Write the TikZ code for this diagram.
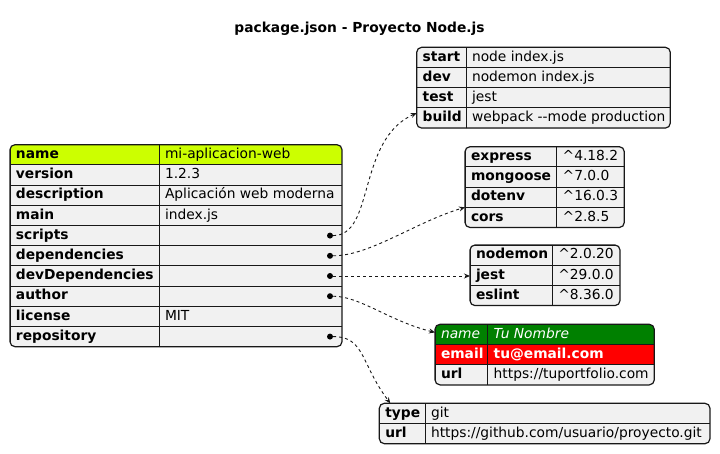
\documentclass[tikz,border=0pt]{standalone}
\usepackage{fontspec}
\setmainfont{DejaVu Sans}
\usepackage{tikz}
\usetikzlibrary{arrows.meta, positioning}

\definecolor{jline}{HTML}{181818}
\definecolor{cellbg}{HTML}{F1F1F1}
\definecolor{jlime}{HTML}{CCFF00}
\definecolor{jgreen}{HTML}{008000}
\definecolor{jred}{HTML}{FF0000}

\newcommand{\jfont}{\fontsize{13.8}{17}\selectfont}

\tikzset{
  jcell/.style={rectangle, draw=jline, line width=0.8pt, fill=cellbg, anchor=north west,
    outer sep=0pt, inner xsep=6pt, inner ysep=0pt, minimum height=20.2pt,
    text height=10.5pt, text depth=3pt},
  keycell/.style={jcell, font=\jfont\bfseries},
  valcell/.style={jcell, font=\jfont},
  rowplain/.style={},
  rowlime/.style={fill=jlime},
  rowgreen/.style={fill=jgreen, text=white, font=\jfont\itshape},
  rowred/.style={fill=jred, text=white, font=\jfont\bfseries},
  tableframe/.style={draw=jline, line width=1.2pt, rounded corners=5pt},
  jdot/.style={circle, fill=black, inner sep=0pt, minimum size=6pt},
  jlink/.style={draw=jline, line width=0.9pt, dash pattern=on 3pt off 3pt,
    -{Stealth[length=6pt,width=5pt]}}
}

% #1 name, #2 north west corner, #3 key width, #4 value width, #5 rows, #6 key/value/style list
\newcommand{\jsontable}[6]{%
  \pgfmathsetmacro\jkw{#3-12}%
  \pgfmathsetmacro\jvw{#4-12}%
  \begin{scope}[shift={#2}]
    \begin{scope}
      \clip[rounded corners=5pt] (0,0) rectangle (#3+#4,#5*20.2);
      \foreach \k/\v/\s [count=\i] in {#6} {
        \node[keycell,\s] (#1-k\i) at (0,{(\i-1)*20.2}) {\makebox[\jkw pt][l]{\k}};
        \node[valcell,\s] (#1-v\i) at (#1-k\i.north east) {\makebox[\jvw pt][l]{\v}};
      }
    \end{scope}
    \draw[tableframe] (0,0) rectangle (#3+#4,#5*20.2);
  \end{scope}}

\begin{document}
\begin{tikzpicture}[x=1pt, y=-1pt]
  \useasboundingbox (0,0) rectangle (720,454);

  \node[font=\jfont\bfseries] (title) at (359.5,28.5) {package.json - Proyecto Node.js};

  \jsontable{main}{(10,144.7)}{149}{183}{10}{name/mi-aplicacion-web/rowlime,
    version/1.2.3/rowplain, description/Aplicación web moderna/rowplain,
    main/index.js/rowplain, scripts//rowplain, dependencies//rowplain,
    devDependencies//rowplain, author//rowplain, license/MIT/rowplain,
    repository//rowplain}

  \jsontable{scr}{(416.7,47.3)}{49.3}{204.3}{4}{start/node index.js/rowplain,
    dev/nodemon index.js/rowplain, test/jest/rowplain,
    build/webpack -{}-mode production/rowplain}

  \jsontable{deps}{(465,146.7)}{91.7}{67.6}{4}{express/\textasciicircum4.18.2/rowplain,
    mongoose/\textasciicircum7.0.0/rowplain, dotenv/\textasciicircum16.0.3/rowplain,
    cors/\textasciicircum2.8.5/rowplain}

  \jsontable{dev}{(470,245)}{82.3}{67.7}{3}{nodemon/\textasciicircum2.0.20/rowplain,
    jest/\textasciicircum29.0.0/rowplain, eslint/\textasciicircum8.36.0/rowplain}

  \jsontable{auth}{(435,324.3)}{52.7}{166.6}{3}{name/Tu Nombre/rowgreen,
    email/tu@email.com/rowred, url/{https://tuportfolio.com}/rowplain}

  \jsontable{repo}{(379.3,403.3)}{45.7}{285}{2}{type/git/rowplain,
    url/{https://github.com/usuario/proyecto.git}/rowplain}

  % dots on the object rows
  \node[jdot] (scripts-dot) at ([xshift=-12pt]main-v5.east) {};
  \node[jdot] (deps-dot) at ([xshift=-12pt]main-v6.east) {};
  \node[jdot] (dev-dot) at ([xshift=-12pt]main-v7.east) {};
  \node[jdot] (auth-dot) at ([xshift=-12pt]main-v8.east) {};
  \node[jdot] (repo-dot) at ([xshift=-12pt]main-v10.east) {};

  \draw[jlink] (scripts-dot) .. controls +(45,0) and +(-60,27) .. ([yshift=5pt]scr-k4.west);
  \draw[jlink] (deps-dot) .. controls +(40,0) and +(-50,15) .. (deps-k3.south west);
  \draw[jlink] (dev-dot) -- (dev-dot -| dev-k2.west);
  \draw[jlink] (auth-dot) .. controls +(30,0) and +(-45,-11) .. ([yshift=2pt]auth-k1.west);
  \draw[jlink] (repo-dot) .. controls +(35,0) and +(-30,-40) .. ([xshift=11pt]repo-k1.north west);
\end{tikzpicture}
\end{document}
